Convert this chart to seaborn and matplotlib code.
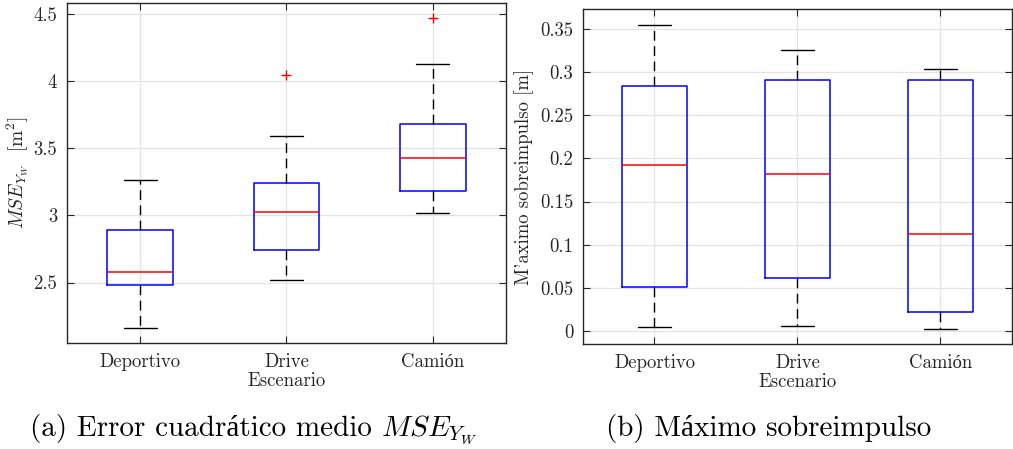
import numpy as np
import pandas as pd
import matplotlib
matplotlib.use("Agg")
import matplotlib.pyplot as plt
from matplotlib.ticker import FormatStrFormatter, FixedLocator
import seaborn as sns

# ---------------- data ----------------
categories = ["Deportivo", "Drive", "Camión"]

# (a) MSE_YW  [m^2] : five-number summaries per scenario
mse_low = [2.162, 2.517, 3.016]
mse_q1 = [2.478, 2.741, 3.180]
mse_med = [2.582, 3.022, 3.424]
mse_q3 = [2.892, 3.240, 3.682]
mse_high = [3.265, 3.588, 4.124]
mse_outlier_cat = ["Drive", "Camión"]
mse_outlier_val = [4.045, 4.470]

# (b) Máximo sobreimpulso [m]
ovs_low = [0.0043, 0.0058, 0.0027]
ovs_q1 = [0.0506, 0.0610, 0.0223]
ovs_med = [0.1920, 0.1820, 0.1120]
ovs_q3 = [0.2840, 0.2905, 0.2905]
ovs_high = [0.3550, 0.3260, 0.3030]

mse_ticks = [2.5, 3.0, 3.5, 4.0, 4.5]
ovs_ticks = [0.0, 0.05, 0.10, 0.15, 0.20, 0.25, 0.30, 0.35]


def summary_frame(low, q1, med, q3, high):
    rows = []
    for c, a, b, m, d, e in zip(categories, low, q1, med, q3, high):
        for v in (a, b, m, d, e):
            rows.append({"Escenario": c, "valor": v})
    return pd.DataFrame(rows)


df_mse = summary_frame(mse_low, mse_q1, mse_med, mse_q3, mse_high)
df_ovs = summary_frame(ovs_low, ovs_q1, ovs_med, ovs_q3, ovs_high)
df_out = pd.DataFrame({"Escenario": mse_outlier_cat, "valor": mse_outlier_val})

# ---------------- style ----------------
sns.set_theme(style="whitegrid")
plt.rcParams["font.family"] = ["cmr10", "Liberation Serif", "DejaVu Serif"]
plt.rcParams["mathtext.fontset"] = "cm"
plt.rcParams["axes.formatter.use_mathtext"] = True
plt.rcParams["axes.unicode_minus"] = False

DARK = "#262626"
GRID = "#e3e3e3"
W, H = 1013, 449

fig = plt.figure(figsize=(W / 100, H / 100), dpi=100)
ax1 = fig.add_axes([0.0661, 0.2361, 0.4334, 0.757])
ax2 = fig.add_axes([0.5755, 0.2339, 0.4235, 0.746])

box_kws = dict(
    order=categories,
    fill=False,
    width=0.45,
    whis=(0, 100),
    showfliers=False,
    linewidth=1.1,
    boxprops=dict(color="#0000ff", linewidth=1.1),
    medianprops=dict(color="#ff0000", linewidth=1.1),
    whiskerprops=dict(color="black", linewidth=1.0, linestyle=(0, (7, 4))),
    capprops=dict(color="black", linewidth=1.0),
)

sns.boxplot(data=df_mse, x="Escenario", y="valor", ax=ax1, **box_kws)
sns.stripplot(data=df_out, x="Escenario", y="valor", order=categories, ax=ax1,
              jitter=False, marker="+", color="#ff0000", size=6.5, linewidth=1.0)
sns.boxplot(data=df_ovs, x="Escenario", y="valor", ax=ax2, **box_kws)

for ax in (ax1, ax2):
    ax.set_xlim(-0.5, 2.5)
    ax.set_xticks(range(len(categories)))
    ax.set_xticklabels(categories)
    ax.set_xlabel("Escenario", fontsize=13.5, color=DARK, labelpad=1)
    ax.tick_params(axis="both", which="both", direction="in", length=5, width=0.8,
                   top=True, right=True, bottom=True, left=True,
                   labelsize=13.5, labelcolor=DARK, color=DARK, pad=7)
    ax.grid(True, color=GRID, linewidth=0.9)
    ax.set_axisbelow(True)
    ax.set_facecolor("white")
    for sp in ax.spines.values():
        sp.set_visible(True)
        sp.set_color(DARK)
        sp.set_linewidth(1.0)

ax1.set_ylim(2.05, 4.58)
ax1.yaxis.set_major_locator(FixedLocator(mse_ticks))
ax1.yaxis.set_major_formatter(FormatStrFormatter("%g"))
ax1.set_ylabel(r"$MSE_{Y_W}$  $[\mathrm{m}^2]$", fontsize=14, color=DARK, labelpad=2)

ax2.set_ylim(-0.015, 0.373)
ax2.yaxis.set_major_locator(FixedLocator(ovs_ticks))
ax2.yaxis.set_major_formatter(FormatStrFormatter("%g"))
ax2.set_ylabel("M'aximo sobreimpulso [m]", fontsize=13.5, color=DARK, labelpad=4)

# captions
cap_y = 1 - 436 / H
t_a = fig.text(30 / W, cap_y, "(a) Error cuadrático medio", fontsize=21,
               ha="left", va="baseline", color="black")
renderer = fig.canvas.get_renderer()
bb = t_a.get_window_extent(renderer=renderer)
fig.text((bb.x1 + 9) / W, cap_y, r"$MSE_{Y_W}$", fontsize=21,
         ha="left", va="baseline", color="black")
fig.text(606 / W, cap_y, "(b) Máximo sobreimpulso", fontsize=21,
         ha="left", va="baseline", color="black")

fig.savefig("out.png", dpi=100, facecolor="white")
